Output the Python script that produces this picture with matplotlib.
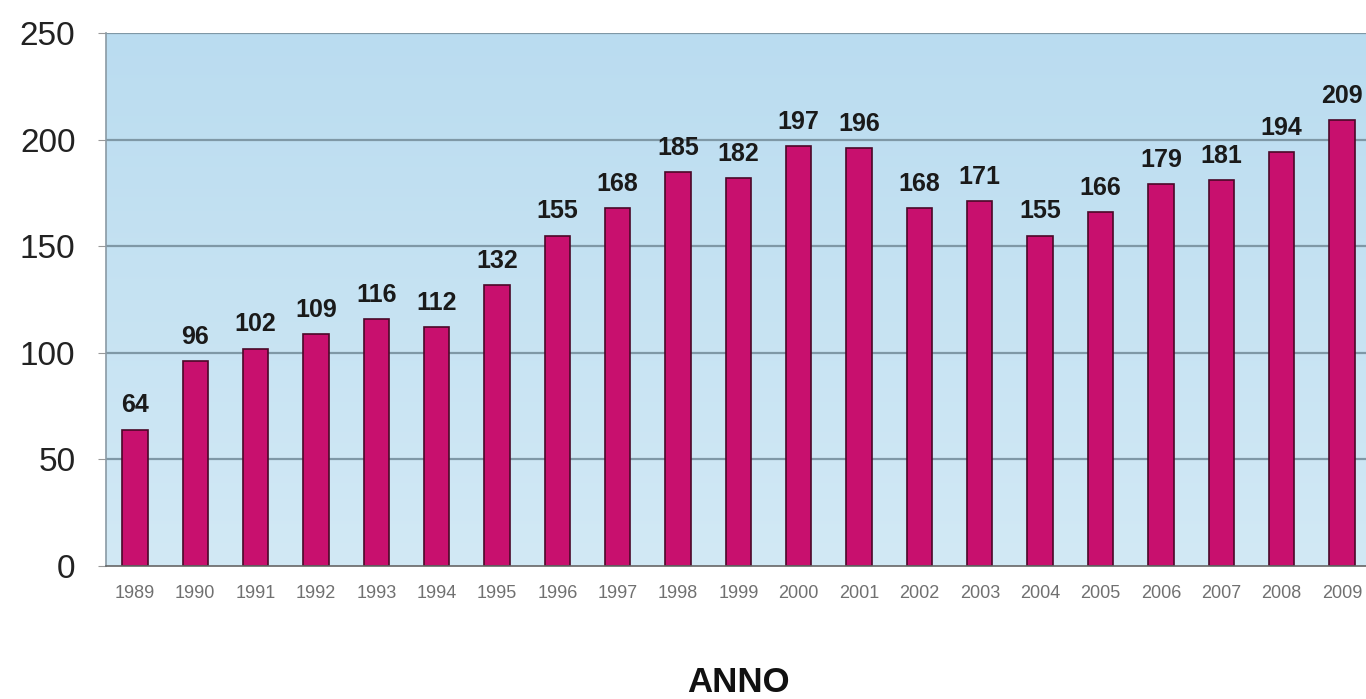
import matplotlib
matplotlib.use("Agg")
import matplotlib.pyplot as plt
import numpy as np
from matplotlib.colors import LinearSegmentedColormap
from matplotlib.font_manager import FontProperties, findfont

years = ["1989", "1990", "1991", "1992", "1993", "1994", "1995", "1996", "1997", "1998",
         "1999", "2000", "2001", "2002", "2003", "2004", "2005", "2006", "2007", "2008", "2009"]
values = [64, 96, 102, 109, 116, 112, 132, 155, 168, 185, 182, 197, 196, 168, 171, 155,
          166, 179, 181, 194, 209]
yticks = [0, 50, 100, 150, 200, 250]

plt.rcParams['font.family'] = ['Liberation Sans', 'DejaVu Sans']

bold_path = findfont(FontProperties(family='Liberation Sans', weight='bold', stretch='normal'))
if 'Narrow' in bold_path:
    bold_path = findfont(FontProperties(family='DejaVu Sans', weight='bold'))
bold_fp = FontProperties(fname=bold_path)

fig = plt.figure(figsize=(13.66, 6.99), dpi=100)
ax = fig.add_axes([106/1366, 1-566/699, 1-106/1366, (566-33)/699])

x = np.arange(len(years))
xl = (-0.48, len(years) - 0.6)
ax.set_xlim(*xl)
ax.set_ylim(0, 250)

# gradient background
cmap = LinearSegmentedColormap.from_list("bg", ["#d2e9f5", "#badcf0"])
grad = np.linspace(0, 1, 256).reshape(-1, 1)
ax.imshow(grad, aspect="auto", cmap=cmap, origin="lower",
          extent=[xl[0], xl[1], 0, 250], zorder=0)

for yv in yticks[1:]:
    ax.axhline(yv, color="#7f98a6", lw=1.6, zorder=1)

ax.bar(x, values, width=0.42, color="#c8106e", edgecolor="#4a0828", lw=1.2, zorder=2)
for xi, v in zip(x, values):
    ax.text(xi, v + 8, str(v), ha="center", va="baseline", fontproperties=bold_fp,
            fontsize=18, color="#1a1a1a", zorder=3)

ax.set_xticks(x)
ax.set_xticklabels(years, fontsize=13, color="#707070")
ax.set_yticks(yticks)
ax.set_yticklabels([str(t) for t in yticks], fontsize=24, color="#222222")
ax.tick_params(axis="y", length=6, color="#999999", pad=16)
ax.tick_params(axis="x", length=0, pad=14)

for s in ["top", "right"]:
    ax.spines[s].set_visible(False)
ax.spines["left"].set_color("#8a9aa4")
ax.spines["left"].set_linewidth(1.2)
ax.spines["bottom"].set_color("#666666")
ax.spines["bottom"].set_linewidth(1.2)

fig.text(738/1366, 1-682/699, "ANNO", ha="center", va="center", fontproperties=bold_fp,
         fontsize=25, color="#111111")

fig.savefig("out.png", dpi=100)
